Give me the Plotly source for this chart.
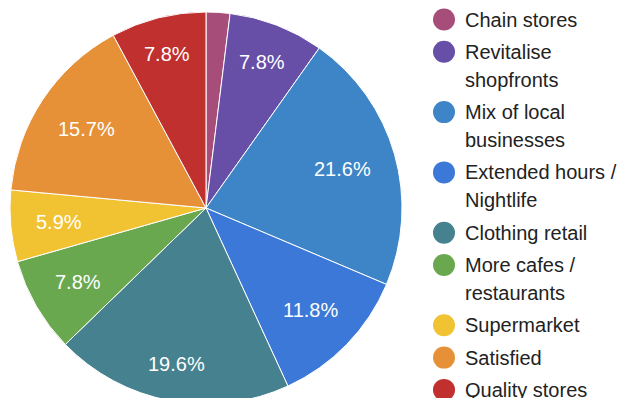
import math
import plotly.graph_objects as go

# Survey responses: what would improve the high street
categories = [
    "Chain stores",
    "Revitalise shopfronts",
    "Mix of local businesses",
    "Extended hours / Nightlife",
    "Clothing retail",
    "More cafes / restaurants",
    "Supermarket",
    "Satisfied",
    "Quality stores",
]
legend_lines = [
    ["Chain stores"],
    ["Revitalise", "shopfronts"],
    ["Mix of local", "businesses"],
    ["Extended hours /", "Nightlife"],
    ["Clothing retail"],
    ["More cafes /", "restaurants"],
    ["Supermarket"],
    ["Satisfied"],
    ["Quality stores"],
]
responses = [1, 4, 11, 6, 10, 4, 3, 8, 4]

colors = ["#a64d79", "#674ea7", "#3d85c6", "#3c78d8", "#45818e",
          "#6aa84f", "#f1c232", "#e69138", "#c0302f"]

W, H = 621, 410
FONT = "Arial, Liberation Sans, sans-serif"
LABEL_SIZE = 20

# pie geometry in pixels
CX, CY, R = 206, 208, 196

total = sum(responses)
shares = [v / total * 100 for v in responses]
# tiny slices carry no label
slice_text = [f"{s:.1f}%" if s >= 3 else "" for s in shares]

fig = go.Figure(go.Pie(
    labels=categories,
    values=responses,
    textinfo="none",
    marker=dict(colors=colors, line=dict(color="white", width=1)),
    sort=False,
    direction="clockwise",
    rotation=0,
    showlegend=False,
    hoverinfo="label+percent",
    domain=dict(x=[(CX - R) / W, (CX + R) / W],
                y=[1 - (CY + R) / H, 1 - (CY - R) / H]),
))

# Arial advance widths (em) for the glyphs used in slice labels
GLYPH_W = {".": 0.278, "%": 0.889}


def text_width(s):
    return sum(GLYPH_W.get(ch, 0.556) for ch in s) * LABEL_SIZE


annotations = []
# slice labels: box pushed outward until its far edge reaches 0.87 R
cum = 0
for v, txt in zip(responses, slice_text):
    mid = (cum + v / 2) / total * 2 * math.pi
    cum += v
    if not txt:
        continue
    dx, dy = math.sin(mid), -math.cos(mid)
    hw, hh = text_width(txt) / 2, 7
    r = 0.873 * R - (abs(dx) * hw + abs(dy) * hh)
    px, py = CX + dx * r, CY + dy * r
    annotations.append(dict(
        text=txt, xref="paper", yref="paper",
        x=px / W, y=1 - py / H, xanchor="center", yanchor="middle",
        showarrow=False,
        font=dict(family=FONT, size=LABEL_SIZE, color="white"),
    ))

# legend: circle swatches with wrapped labels
shapes = []
y = 19.5
for lines, col in zip(legend_lines, colors):
    shapes.append(dict(type="circle", xref="paper", yref="paper",
                       x0=433 / W, x1=455 / W,
                       y0=1 - (y + 11) / H, y1=1 - (y - 11) / H,
                       fillcolor=col, line=dict(width=0)))
    for k, line in enumerate(lines):
        annotations.append(dict(
            text=line, xref="paper", yref="paper",
            x=463 / W, y=1 - (y + 28 * k) / H,
            xanchor="left", yanchor="middle", showarrow=False,
            font=dict(family=FONT, size=20, color="#222222"),
        ))
    y += 32.3 + 28 * (len(lines) - 1)

fig.update_layout(
    width=W, height=H,
    margin=dict(l=0, r=0, t=0, b=0),
    paper_bgcolor="white",
    plot_bgcolor="white",
    shapes=shapes,
    annotations=annotations,
)

fig.write_html("out.html")
